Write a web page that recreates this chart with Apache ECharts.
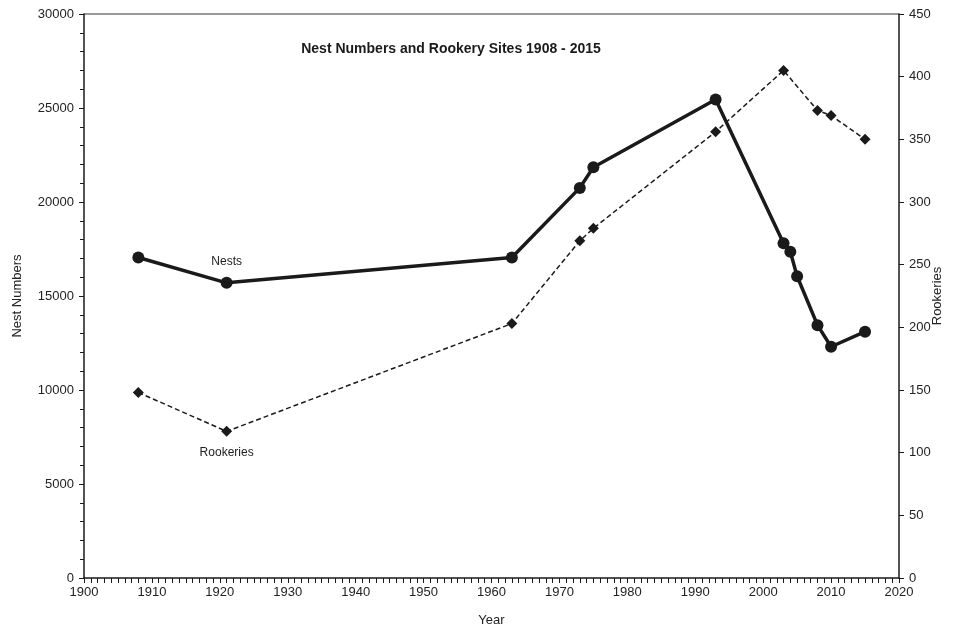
<!DOCTYPE html>
<html>
<head>
<meta charset="utf-8">
<script src="https://cdn.jsdelivr.net/npm/echarts@6/dist/echarts.min.js"></script>
<style>
html, body { margin: 0; padding: 0; background: #fff; }
#chart { width: 954px; height: 628px; }
</style>
</head>
<body>
<div id="chart"></div>
<script>
// data
const years = [1908, 1921, 1963, 1973, 1975, 1993, 2003, 2004, 2005, 2008, 2010, 2015];
const nests = [17050, 15700, 17050, 20750, 21850, 25450, 17800, 17350, 16050, 13450, 12300, 13100];
const rookYears = [1908, 1921, 1963, 1973, 1975, 1993, 2003, 2008, 2010, 2015];
const rookeries = [148, 117, 203, 269, 279, 356, 405, 373, 369, 350];

const ink = '#1a1a1a';
const font = 'Liberation Sans, Arial, sans-serif';

const chart = echarts.init(document.getElementById('chart'));

const nestData = years.map((y, i) => {
    const d = { value: [y, nests[i]] };
    if (y === 1921) d.label = { show: true, position: 'top', distance: 9, formatter: 'Nests' };
    return d;
});
const rookData = rookYears.map((y, i) => {
    const d = { value: [y, rookeries[i]] };
    if (y === 1921) d.label = { show: true, position: 'bottom', distance: 10, formatter: 'Rookeries' };
    return d;
});

const axisText = { color: '#222', fontFamily: font, fontSize: 13 };
const plain = v => String(v);

chart.setOption({
    animation: false,
    backgroundColor: '#fff',
    title: {
        text: 'Nest Numbers and Rookery Sites 1908 - 2015',
        left: 446, top: 37, textAlign: 'center',
        textStyle: { fontFamily: font, fontSize: 14, fontWeight: 'bold', color: ink }
    },
    grid: { left: 84, right: 55, top: 14, bottom: 50, containLabel: false, outerBoundsMode: 'none' },
    graphic: [{
        type: 'line', shape: { x1: 84, y1: 14, x2: 899, y2: 14 },
        style: { stroke: '#777', lineWidth: 1.5 }
    }],
    xAxis: {
        type: 'value', min: 1900, max: 2020, interval: 10,
        name: 'Year', nameLocation: 'middle', nameGap: 36,
        nameTextStyle: axisText,
        axisLine: { lineStyle: { color: ink, width: 1.5 } },
        axisTick: { length: 5, lineStyle: { color: ink } },
        minorTick: { show: true, splitNumber: 10, length: 5, lineStyle: { color: ink } },
        axisLabel: Object.assign({ margin: 8, formatter: plain }, axisText),
        splitLine: { show: false }
    },
    yAxis: [{
        type: 'value', min: 0, max: 30000, interval: 5000,
        name: 'Nest Numbers', nameLocation: 'middle', nameGap: 60, nameRotate: 90,
        nameMoveOverlap: false,
        nameTextStyle: axisText,
        axisLine: { show: true, lineStyle: { color: ink, width: 1.5 } },
        axisTick: { show: true, length: 5, lineStyle: { color: ink } },
        minorTick: { show: true, splitNumber: 5, length: 4, lineStyle: { color: ink } },
        axisLabel: Object.assign({ margin: 10, formatter: plain }, axisText),
        splitLine: { show: false }
    }, {
        type: 'value', min: 0, max: 450, interval: 50, position: 'right',
        name: 'Rookeries', nameLocation: 'middle', nameGap: 32, nameRotate: 90,
        nameMoveOverlap: false,
        nameTextStyle: axisText,
        axisLine: { show: true, lineStyle: { color: ink, width: 1.5 } },
        axisTick: { show: true, length: 5, lineStyle: { color: ink } },
        axisLabel: Object.assign({ margin: 10, formatter: plain }, axisText),
        splitLine: { show: false }
    }],
    series: [{
        name: 'Nests', type: 'line', yAxisIndex: 0,
        data: nestData,
        symbol: 'circle', symbolSize: 12,
        lineStyle: { color: ink, width: 3.5 },
        itemStyle: { color: ink },
        label: { color: '#222', fontFamily: font, fontSize: 12 },
        z: 3
    }, {
        name: 'Rookeries', type: 'line', yAxisIndex: 1,
        data: rookData,
        symbol: 'diamond', symbolSize: 11,
        lineStyle: { color: ink, width: 1.5, type: [5, 3] },
        itemStyle: { color: ink },
        label: { color: '#222', fontFamily: font, fontSize: 12 },
        z: 2
    }]
});

window.addEventListener('resize', () => chart.resize());
</script>
</body>
</html>
